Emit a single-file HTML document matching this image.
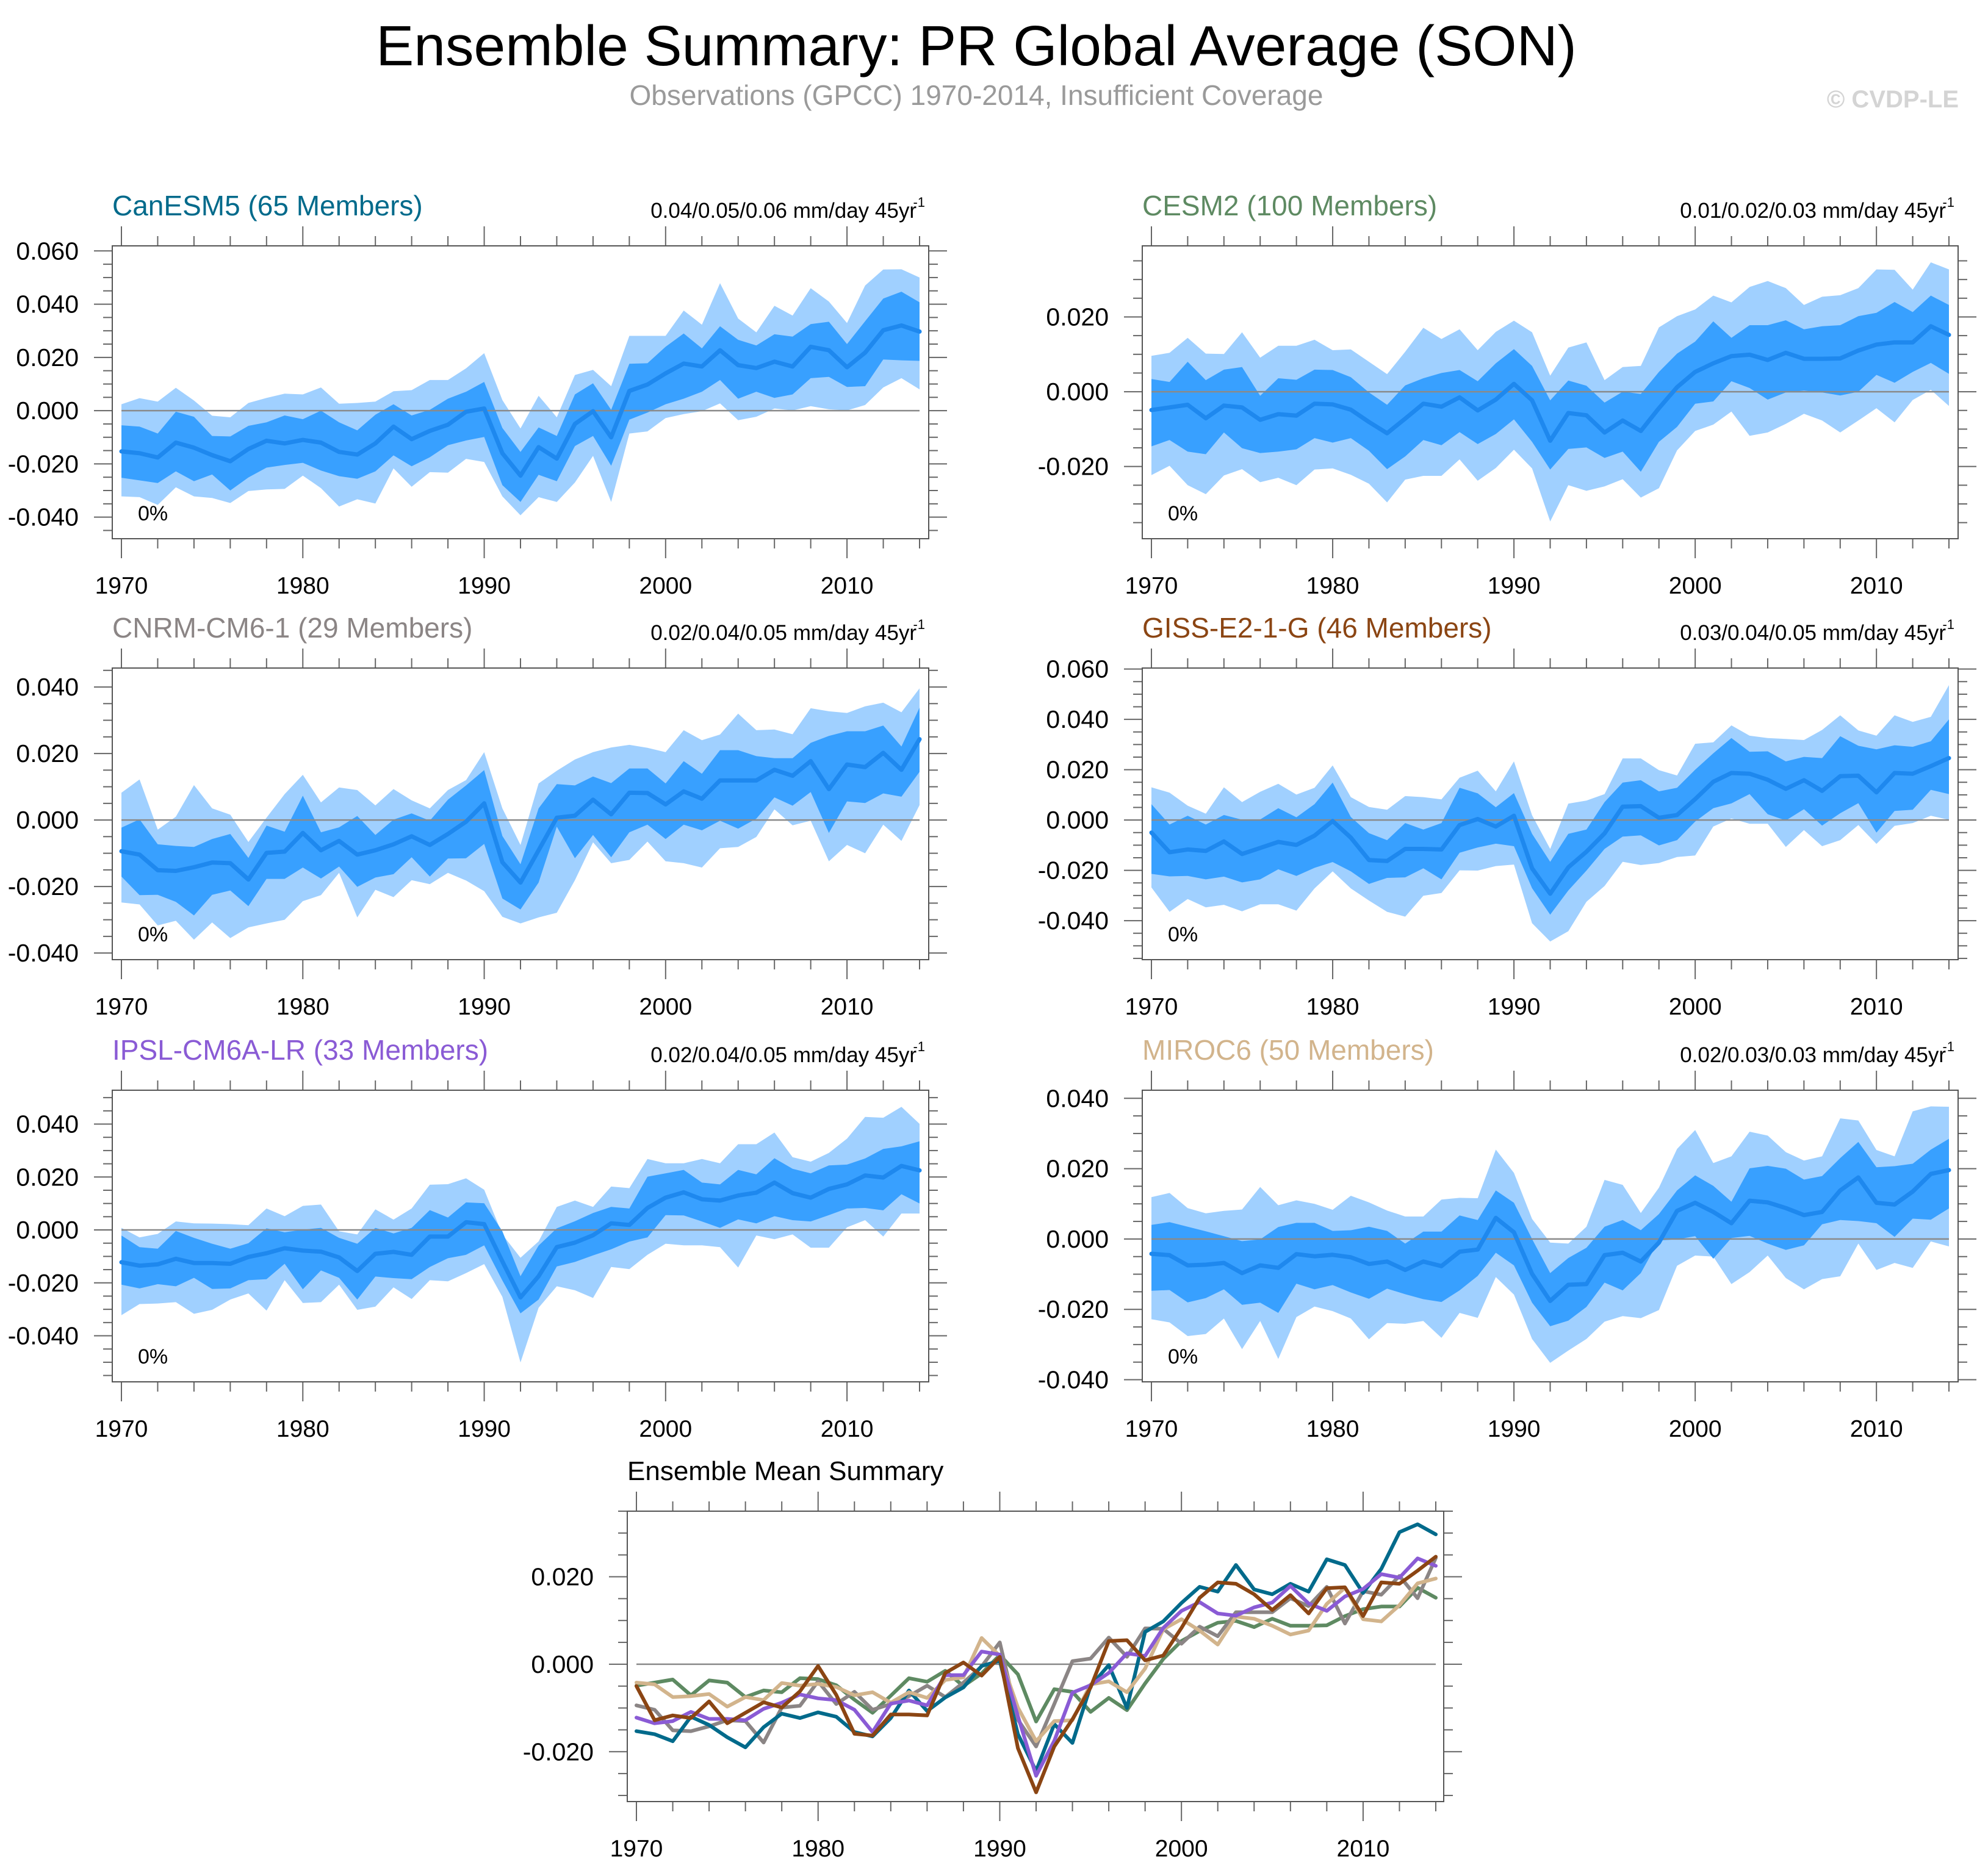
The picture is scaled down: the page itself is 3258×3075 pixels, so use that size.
<!DOCTYPE html>
<html><head><meta charset="utf-8">
<style>
html,body{margin:0;padding:0;background:#fff;}
svg{display:block;font-family:"Liberation Sans",sans-serif;}
</style></head>
<body>
<svg id="chart" width="3258" height="3075" viewBox="0 0 3258 3075" xmlns="http://www.w3.org/2000/svg">
<text x="1600" y="107" font-size="93" text-anchor="middle" fill="#000">Ensemble Summary: PR Global Average (SON)</text>
<text x="1600" y="172" font-size="46" text-anchor="middle" fill="#9a9a9a">Observations (GPCC) 1970-2014, Insufficient Coverage</text>
<text x="3210" y="176" font-size="40" font-weight="bold" text-anchor="end" fill="#d4d4d4">© CVDP-LE</text>
<g id="plots"></g>
</svg>
<script>
const years = [];
for (let y = 1970; y <= 2014; y++) years.push(y);

const canMean=[-.0153,-.016,-.0176,-.012,-.0139,-.0167,-.019,-.0144,-.0113,-.0123,-.011,-.012,-.0155,-.0165,-.0123,-.006,-.0107,-.0076,-.0053,-.0004,.0008,-.016,-.0244,-.0137,-.018,-.005,-.0002,-.010,.0074,.0098,.014,.0177,.0166,.0227,.0171,.016,.0184,.0166,.024,.0227,.0163,.0218,.0302,.032,.0297];
const canP75=[-.0055,-.006,-.0086,-.0004,-.0023,-.0095,-.0097,-.0057,-.0044,-.0018,-.0032,0,-.0044,-.0074,-.0015,.0024,-.0018,.0003,.0045,.0071,.0108,-.0065,-.0155,-.0063,-.0095,.0061,.0103,.0003,.0176,.0178,.024,.029,.0234,.0317,.0266,.0245,.0287,.0278,.0325,.0334,.025,.0336,.0421,.0447,.0407];
const canP25=[-.0252,-.0262,-.0272,-.0228,-.0265,-.024,-.03,-.0251,-.0214,-.0204,-.0196,-.0225,-.0246,-.0256,-.0228,-.0168,-.0209,-.0175,-.013,-.0112,-.0099,-.028,-.0343,-.0241,-.0265,-.0133,-.0095,-.0207,-.0034,-.0007,.0024,.0045,.0071,.0115,.0045,.0071,.0048,.0061,.0122,.0127,.0089,.0092,.0192,.0189,.0187];
const canP90=[.0024,.0047,.0034,.0086,.0038,-.0019,-.0025,.0029,.0048,.0064,.0061,.0087,.0026,.0029,.0034,.0073,.0077,.0115,.0115,.0159,.0216,.004,-.0067,.0056,-.0025,.0134,.0153,.0092,.0281,.0281,.0281,.0376,.0323,.0479,.0346,.0294,.0394,.0357,.046,.041,.0329,.047,.053,.0531,.05];
const canP10=[-.0322,-.0325,-.0354,-.0288,-.0322,-.0328,-.0347,-.0302,-.0296,-.0294,-.0244,-.0291,-.036,-.0333,-.0349,-.0217,-.0286,-.0231,-.0233,-.0181,-.0193,-.0322,-.0393,-.0325,-.0343,-.027,-.017,-.0343,-.0086,-.0078,-.0028,-.0013,-.0002,.0027,-.0036,-.0023,.0008,.0001,.0017,.0005,.0001,.0021,.0087,.0122,.008];

const cesmMean=[-.0049,-.0042,-.0035,-.0071,-.0037,-.0042,-.0075,-.006,-.0064,-.0032,-.0034,-.0048,-.0081,-.0111,-.0072,-.0032,-.004,-.0015,-.005,-.0021,.0021,-.0023,-.0131,-.0057,-.0063,-.0109,-.0077,-.0105,-.0044,.0012,.0053,.0076,.0095,.0099,.0085,.0104,.0088,.0088,.0089,.011,.0126,.0132,.0132,.0175,.0152];
const cesmP75=[.0034,.0026,.008,.0031,.0059,.0066,-.0011,.0036,.0032,.0059,.0058,.0039,-.0002,-.0035,.0017,.0036,.005,.0058,.0028,.0076,.0114,.0069,-.0023,.003,.0016,-.0029,0,-.0006,.0053,.0102,.0134,.0188,.0144,.0178,.0178,.0191,.0167,.0175,.0178,.0202,.0211,.024,.0213,.0257,.0232];
const cesmP25=[-.0146,-.0129,-.016,-.0167,-.0109,-.0151,-.0164,-.016,-.0154,-.0124,-.0136,-.0124,-.0158,-.0207,-.0173,-.0129,-.0143,-.0108,-.014,-.0113,-.0074,-.0134,-.0208,-.0153,-.0149,-.0177,-.016,-.0214,-.0134,-.0094,-.0032,-.0026,.0028,.001,-.0021,-.0002,.0003,-.0002,-.001,0,.0045,.0024,.0053,.0077,.0048];
const cesmP90=[.0096,.0104,.0144,.0102,.0101,.0159,.0091,.0123,.0123,.0139,.0111,.0113,.008,.0047,.0107,.0171,.0141,.0167,.0111,.016,.019,.0159,.0043,.0118,.0132,.0031,.0066,.0069,.0172,.0202,.022,.0257,.0239,.028,.0296,.0277,.0232,.0254,.0258,.0277,.0327,.0326,.0273,.0346,.0327];
const cesmP10=[-.0223,-.0198,-.025,-.0274,-.0224,-.0207,-.0242,-.023,-.025,-.0208,-.0205,-.0222,-.0246,-.0296,-.0235,-.0225,-.0225,-.0181,-.0238,-.0204,-.0155,-.0205,-.0347,-.025,-.0265,-.0253,-.0234,-.0283,-.0258,-.0157,-.0105,-.0088,-.0053,-.0118,-.0109,-.0086,-.0059,-.0077,-.0109,-.0077,-.0044,-.0082,-.0022,.0005,-.0038];

const cnrmMean=[-.0094,-.0104,-.0151,-.0153,-.0142,-.0128,-.013,-.0179,-.0099,-.0095,-.0039,-.0091,-.0063,-.0104,-.0091,-.0073,-.0049,-.0075,-.0042,-.0005,.005,-.0127,-.0188,-.0091,.0007,.0013,.0061,.0017,.0082,.0081,.0047,.0086,.0064,.0119,.0119,.0119,.0151,.0133,.0177,.0093,.0167,.0159,.0202,.0151,.0243];
const cnrmP75=[-.0023,.0002,-.0073,-.0078,-.0081,-.0057,-.0042,-.0114,-.0017,-.0035,.0073,-.0037,-.0022,.0012,-.0045,.0001,.002,-.0002,.0061,.0104,.015,-.0048,-.0133,.0035,.0108,.0104,.0131,.0111,.0155,.0155,.011,.0177,.0139,.021,.021,.0192,.0186,.0186,.0232,.0253,.0267,.0267,.0284,.0221,.0338];
const cnrmP25=[-.017,-.0226,-.0225,-.0246,-.0287,-.0225,-.0212,-.0259,-.0177,-.0177,-.0143,-.0176,-.014,-.0201,-.0173,-.0163,-.0112,-.017,-.0116,-.0115,-.0072,-.0236,-.0269,-.0188,-.002,-.0115,-.0045,-.0112,-.0037,-.0014,-.0057,-.0014,-.0031,-.0002,-.0026,.0004,.0068,.0043,.0084,-.0039,.0056,.0051,.008,.007,.0145];
const cnrmP90=[.0082,.0122,-.0029,.001,.0105,.0035,.0016,-.0066,.0007,.0078,.0136,.0053,.0098,.009,.0044,.0093,.0059,.0035,.009,.012,.0204,.0035,-.0075,.011,.0148,.0182,.0204,.0218,.0226,.0217,.0204,.027,.024,.0257,.032,.027,.0272,.0258,.0336,.0327,.0322,.0342,.0353,.0324,.0396];
const cnrmP10=[-.0248,-.0254,-.0317,-.0303,-.036,-.0308,-.0355,-.0323,-.0311,-.03,-.0244,-.0226,-.0159,-.0293,-.021,-.0232,-.0181,-.0193,-.0159,-.0182,-.0214,-.0291,-.0311,-.0293,-.0279,-.0181,-.0067,-.013,-.012,-.0065,-.0124,-.013,-.0143,-.0085,-.0081,-.0051,.0032,-.0016,-.0002,-.0124,-.0075,-.01,-.0014,-.0063,.0045];

const gissMean=[-.005,-.0128,-.0117,-.0123,-.0085,-.0135,-.0111,-.0087,-.0099,-.0062,-.0004,-.007,-.0159,-.0163,-.0115,-.0115,-.0117,-.002,.0004,-.0026,.0017,-.0192,-.0293,-.0188,-.0126,-.0053,.0053,.0055,.0009,.002,.0083,.0152,.0187,.0184,.016,.0124,.0158,.0116,.0174,.0176,.011,.0187,.0184,.0214,.0246];
const gissP75=[.0063,-.0018,.0017,-.0018,.002,.0001,.0002,.0047,.0011,.0063,.0149,.0012,-.0052,-.008,-.0012,-.0038,-.0012,.0128,.0106,.0051,.0107,-.0055,-.0166,-.0055,-.0038,.0071,.0149,.0158,.0114,.0128,.02,.0265,.0326,.0271,.0273,.0233,.0251,.0246,.0333,.0295,.0281,.0297,.0291,.0313,.04];
const gissP25=[-.0214,-.0224,-.0222,-.0236,-.0225,-.0248,-.0236,-.0196,-.0222,-.019,-.0167,-.0204,-.0254,-.023,-.0228,-.0192,-.0236,-.013,-.0109,-.0094,-.0104,-.0271,-.0376,-.028,-.0201,-.0115,-.0066,-.0061,-.0101,-.008,-.0006,.0047,.0066,.0103,.0023,-.0002,.0043,-.0022,.0027,.0067,-.005,.0036,.0041,.012,.0103];
const gissP90=[.013,.0109,.0057,.0025,.013,.0071,.0112,.0144,.0101,.0128,.0217,.0091,.0052,.0041,.0095,.0091,.0082,.0168,.0196,.0114,.0233,.0019,-.0115,.0065,.0077,.0103,.0245,.0245,.0198,.0177,.0303,.0309,.0376,.0335,.0326,.0322,.0318,.0358,.0416,.0356,.0335,.0416,.039,.041,.0536];
const gissP10=[-.0268,-.0365,-.0314,-.0347,-.0337,-.0363,-.0335,-.0335,-.036,-.0272,-.0204,-.0272,-.032,-.0365,-.0384,-.0301,-.029,-.02,-.0201,-.0183,-.0177,-.041,-.0483,-.0442,-.0325,-.0262,-.0166,-.0179,-.0171,-.0147,-.0141,-.0026,.0006,-.0015,-.0015,-.0107,-.004,-.0104,-.008,-.002,-.0095,-.0023,-.0012,.0017,.0001];

const ipslMean=[-.0122,-.0135,-.013,-.0109,-.0125,-.0125,-.0128,-.0102,-.0088,-.0069,-.0078,-.0082,-.0104,-.0155,-.009,-.0083,-.0094,-.0025,-.0025,.0029,.0022,-.0119,-.0255,-.0175,-.0065,-.0048,-.002,.0025,.0019,.0083,.0122,.0142,.0116,.0111,.013,.0141,.0179,.0139,.0122,.0155,.0172,.0206,.0198,.0242,.0225];
const ipslP75=[-.0021,-.0065,-.0071,-.0004,-.003,-.0052,-.0071,-.005,.0006,-.0009,.0001,.0008,-.003,-.0052,.0008,-.0013,.0008,.0075,.0047,.0104,.0101,-.0005,-.0175,-.0059,.0006,.0033,.0064,.0087,.0081,.0201,.0214,.0227,.0179,.0172,.0227,.021,.0271,.0231,.0214,.0244,.0247,.027,.0306,.0316,.0335];
const ipslP25=[-.0207,-.0221,-.0205,-.0213,-.0181,-.0223,-.0221,-.019,-.0186,-.0128,-.0224,-.0153,-.0181,-.0263,-.0176,-.0182,-.0186,-.014,-.0107,-.0094,-.0058,-.0191,-.0315,-.0263,-.0138,-.0121,-.0096,-.0073,-.0044,-.0028,.0056,.0055,.0032,.0008,.004,.0025,.0052,.0037,.0032,.0056,.0081,.0083,.0074,.0135,.01];
const ipslP90=[.0008,-.0028,-.0015,.0032,.0025,.0024,.0022,.0018,.0081,.0052,.0091,.0096,-.0005,-.0017,.0078,.0039,.0081,.0171,.0173,.0195,.0152,-.0017,-.0105,-.0043,.0087,.0111,.0087,.0164,.0158,.0268,.0252,.0252,.0268,.0252,.0324,.0324,.0368,.0275,.0258,.0291,.0345,.0427,.0424,.0465,.0401];
const ipslP10=[-.0322,-.028,-.0278,-.0273,-.0317,-.0302,-.0263,-.024,-.0305,-.019,-.0276,-.0273,-.0207,-.0302,-.029,-.0217,-.0261,-.019,-.0194,-.0163,-.0129,-.0253,-.0501,-.0294,-.0213,-.0228,-.0257,-.014,-.0148,-.0094,-.0052,-.0058,-.0058,-.0065,-.0142,-.0021,-.0035,-.0017,-.0067,-.0067,.001,.0037,-.0025,.0062,.0062];

const mirocMean=[-.0042,-.0046,-.0075,-.0073,-.0068,-.0097,-.0075,-.0082,-.0043,-.0049,-.0045,-.0052,-.0071,-.0064,-.0088,-.0064,-.0077,-.0036,-.003,.006,.0019,-.0099,-.0176,-.013,-.0128,-.0046,-.0039,-.0064,-.001,.008,.0103,.0077,.0045,.0109,.0104,.0088,.0068,.0077,.0138,.0175,.0103,.0098,.0135,.0185,.0196];
const mirocP75=[.004,.0048,.0035,.0022,.0008,-.0006,-.0001,.0034,.0046,.0046,.0023,.0025,.0035,.0023,-.0013,.0021,.0021,.0067,.0054,.0138,.0103,0,-.0097,-.0054,-.0025,.0035,.0054,.0025,.0071,.0138,.0181,.0151,.0106,.0201,.0208,.02,.0169,.0179,.023,.0276,.0204,.0207,.0214,.0254,.0285];
const mirocP25=[-.0147,-.0145,-.018,-.0168,-.0143,-.0187,-.0181,-.021,-.0127,-.0143,-.0131,-.0152,-.017,-.0141,-.0157,-.0171,-.0179,-.0146,-.0105,-.0039,-.0075,-.0181,-.0248,-.0232,-.0193,-.0124,-.0146,-.0097,-.0004,-.0001,.0008,-.0056,.0003,.0009,-.0013,-.0031,-.0018,.0042,.0054,.0051,.0045,.0006,.0058,.0055,.0087];
const mirocP90=[.0119,.0131,.0088,.0073,.008,.0084,.0148,.0096,.011,.01,.0083,.0123,.0104,.0081,.0064,.0064,.0112,.0117,.0116,.0254,.0188,.0057,-.001,-.0013,.0035,.0168,.0154,.0074,.0146,.0256,.031,.0216,.0235,.0305,.0294,.0247,.0223,.0235,.0343,.0337,.0253,.0235,.0363,.0377,.0376];
const mirocP10=[-.0228,-.0237,-.0276,-.027,-.0226,-.0313,-.0233,-.0341,-.0222,-.0192,-.0205,-.0226,-.0285,-.0239,-.0241,-.0233,-.0281,-.021,-.0224,-.0108,-.0158,-.0284,-.0352,-.0317,-.0284,-.0235,-.0219,-.0225,-.0202,-.0076,-.0047,-.005,-.0128,-.0094,-.0047,-.0111,-.0143,-.0114,-.0106,-.0013,-.0088,-.0068,-.0082,-.0007,-.0021];

const xTickYears = [1970, 1980, 1990, 2000, 2010];
const ticksCan = [0.06, 0.04, 0.02, 0, -0.02, -0.04];
const ticksCesm = [0.02, 0, -0.02];
const ticksCnrm = [0.04, 0.02, 0, -0.02, -0.04];
const ticksGiss = [0.06, 0.04, 0.02, 0, -0.02, -0.04];
const ticksIpsl = [0.04, 0.02, 0, -0.02, -0.04];
const ticksMiroc = [0.04, 0.02, 0, -0.02, -0.04];
const ticksSummary = [0.02, 0, -0.02];

const NS = "http://www.w3.org/2000/svg";
const root = document.getElementById('plots');
function mk(tag, attrs, parent) {
  const e = document.createElementNS(NS, tag);
  for (const k in attrs) e.setAttribute(k, attrs[k]);
  (parent || root).appendChild(e);
  return e;
}
function fmt(v) { return (v < 0 ? '-' : '') + Math.abs(v).toFixed(3); }

function axes(g, f, ticks) {
  const sx = y => f.x0 + (y - 1970) * (f.x1 - f.x0) / 44;
  const sy = v => f.top + (f.vmax - v) * (f.bottom - f.top) / (f.vmax - f.vmin);
  for (let k = Math.ceil(f.vmin / 0.005); k <= Math.floor(f.vmax / 0.005); k++) {
    const v = k * 0.005, yy = sy(v);
    const major = Math.abs(Math.round(v * 1000) % 20) === 0;
    const len = major ? 30 : 15;
    const t1 = mk('line', {x1: f.left - len, x2: f.left, y1: yy, y2: yy, stroke: '#666', 'stroke-width': 2}, g);
    
    
    const t2 = mk('line', {x1: f.right, x2: f.right + len, y1: yy, y2: yy, stroke: '#666', 'stroke-width': 2}, g);
    
    
  }
  for (let y = 1970; y <= 2014; y += 2) {
    const xx = sx(y);
    const major = y % 10 === 0;
    const len = major ? 32 : 16;
    const a = mk('line', {x1: xx, x2: xx, y1: f.top - len, y2: f.top, stroke: '#666', 'stroke-width': 2}, g);
    
    
    const b = mk('line', {x1: xx, x2: xx, y1: f.bottom, y2: f.bottom + len, stroke: '#666', 'stroke-width': 2}, g);
    
    
  }
  ticks.forEach(v => {
    const t = mk('text', {x: f.left - 55, y: sy(v) + 14, 'font-size': 41, 'text-anchor': 'end', fill: '#000'}, g);
    
    
    t.textContent = fmt(v);
  });
  xTickYears.forEach(y => {
    const t = mk('text', {x: sx(y), y: f.bottom + 90, 'font-size': 39, 'text-anchor': 'middle', fill: '#000'}, g);
    
    
    t.textContent = y;
  });
  return {sx, sy};
}

function band(g, sx, sy, hi, lo, color, name) {
  let d = '';
  years.forEach((y, i) => { d += (i ? 'L' : 'M') + sx(y).toFixed(1) + ',' + sy(hi[i]).toFixed(1); });
  for (let i = years.length - 1; i >= 0; i--) d += 'L' + sx(years[i]).toFixed(1) + ',' + sy(lo[i]).toFixed(1);
  const p = mk('path', {d: d + 'Z', fill: color, stroke: 'none'}, g);
  
  
}
function line(g, sx, sy, vals, color, w, name) {
  const pts = years.map((y, i) => sx(y).toFixed(1) + ',' + sy(vals[i]).toFixed(1)).join(' ');
  const p = mk('polyline', {points: pts, fill: 'none', stroke: color, 'stroke-width': w, 'stroke-linejoin': 'round', 'stroke-linecap': 'round'}, g);
  
  
}

function panel(name, title, color, trend, f, ticks, p10, p25, mean, p75, p90) {
  const g = mk('g', {});
  
  
  const {sx, sy} = axes(g, f, ticks);
  band(g, sx, sy, p90, p10, '#a0d0ff', 'range-10-90-band');
  band(g, sx, sy, p75, p25, '#38a0ff', 'range-25-75-band');
  const z = mk('line', {x1: f.x0, x2: f.x1, y1: sy(0), y2: sy(0), stroke: '#8a8a8a', 'stroke-width': 2.5}, g);
  
  
  line(g, sx, sy, mean, '#1e88ee', 7, 'ensemble-mean-line');
  const fr = mk('rect', {x: f.left, y: f.top, width: f.right - f.left, height: f.bottom - f.top, fill: 'none', stroke: '#555', 'stroke-width': 2}, g);
  
  
  const t = mk('text', {x: f.left, y: f.top - 50, 'font-size': 46, fill: color}, g);
  
  
  t.textContent = title;
  const r = mk('text', {x: f.right - 20, y: f.top - 46, 'font-size': 35, 'text-anchor': 'end', fill: '#000'}, g);
  
  
  r.textContent = trend + ' mm/day 45yr';
  const sup = mk('text', {x: f.right - 6, y: f.top - 64, 'font-size': 22, 'text-anchor': 'end', fill: '#000'}, g);
  
  
  sup.textContent = '-1';
  const pc = mk('text', {x: f.left + 42, y: f.bottom - 30, 'font-size': 34, fill: '#000'}, g);
  
  
  pc.textContent = '0%';
}

const L = {left: 184, right: 1522, x0: 199, x1: 1507};
const R = {left: 1872, right: 3209, x0: 1887, x1: 3194};
const r1 = {top: 403, bottom: 883}, r2 = {top: 1095, bottom: 1573}, r3 = {top: 1787, bottom: 2265};

panel('panel-canesm5', 'CanESM5 (65 Members)', '#006a8b', '0.04/0.05/0.06', Object.assign({}, L, r1, {vmax: 0.0619, vmin: -0.0481}), ticksCan, canP10, canP25, canMean, canP75, canP90);
panel('panel-cesm2', 'CESM2 (100 Members)', '#5e8a62', '0.01/0.02/0.03', Object.assign({}, R, r1, {vmax: 0.0390, vmin: -0.0393}), ticksCesm, cesmP10, cesmP25, cesmMean, cesmP75, cesmP90);
panel('panel-cnrm', 'CNRM-CM6-1 (29 Members)', '#8b8585', '0.02/0.04/0.05', Object.assign({}, L, r2, {vmax: 0.0457, vmin: -0.0420}), ticksCnrm, cnrmP10, cnrmP25, cnrmMean, cnrmP75, cnrmP90);
panel('panel-giss', 'GISS-E2-1-G (46 Members)', '#8b4513', '0.03/0.04/0.05', Object.assign({}, R, r2, {vmax: 0.0604, vmin: -0.0555}), ticksGiss, gissP10, gissP25, gissMean, gissP75, gissP90);
panel('panel-ipsl', 'IPSL-CM6A-LR (33 Members)', '#8a5bd5', '0.02/0.04/0.05', Object.assign({}, L, r3, {vmax: 0.0528, vmin: -0.0574}), ticksIpsl, ipslP10, ipslP25, ipslMean, ipslP75, ipslP90);
panel('panel-miroc6', 'MIROC6 (50 Members)', '#d2b48c', '0.02/0.03/0.03', Object.assign({}, R, r3, {vmax: 0.0423, vmin: -0.0406}), ticksMiroc, mirocP10, mirocP25, mirocMean, mirocP75, mirocP90);

(function () {
  const f = {left: 1028, right: 2366, x0: 1043, x1: 2353, top: 2477, bottom: 2953, vmax: 0.0350, vmin: -0.0314};
  const g = mk('g', {});
  
  
  const {sx, sy} = axes(g, f, ticksSummary);
  const z = mk('line', {x1: f.x0, x2: f.x1, y1: sy(0), y2: sy(0), stroke: '#8a8a8a', 'stroke-width': 2.5}, g);
  
  
  line(g, sx, sy, cesmMean, '#5e8a62', 6, 'cesm2-mean-line');
  line(g, sx, sy, cnrmMean, '#8b8585', 6, 'cnrm-mean-line');
  line(g, sx, sy, canMean, '#006a8b', 6, 'canesm5-mean-line');
  line(g, sx, sy, mirocMean, '#d2b48c', 6, 'miroc6-mean-line');
  line(g, sx, sy, ipslMean, '#8a5bd5', 6, 'ipsl-mean-line');
  line(g, sx, sy, gissMean, '#8b4513', 6, 'giss-mean-line');
  const fr = mk('rect', {x: f.left, y: f.top, width: f.right - f.left, height: f.bottom - f.top, fill: 'none', stroke: '#555', 'stroke-width': 2}, g);
  
  
  const t = mk('text', {x: f.left, y: 2426, 'font-size': 44, fill: '#000'}, g);
  
  
  t.textContent = 'Ensemble Mean Summary';
})();
</script>
</body></html>
